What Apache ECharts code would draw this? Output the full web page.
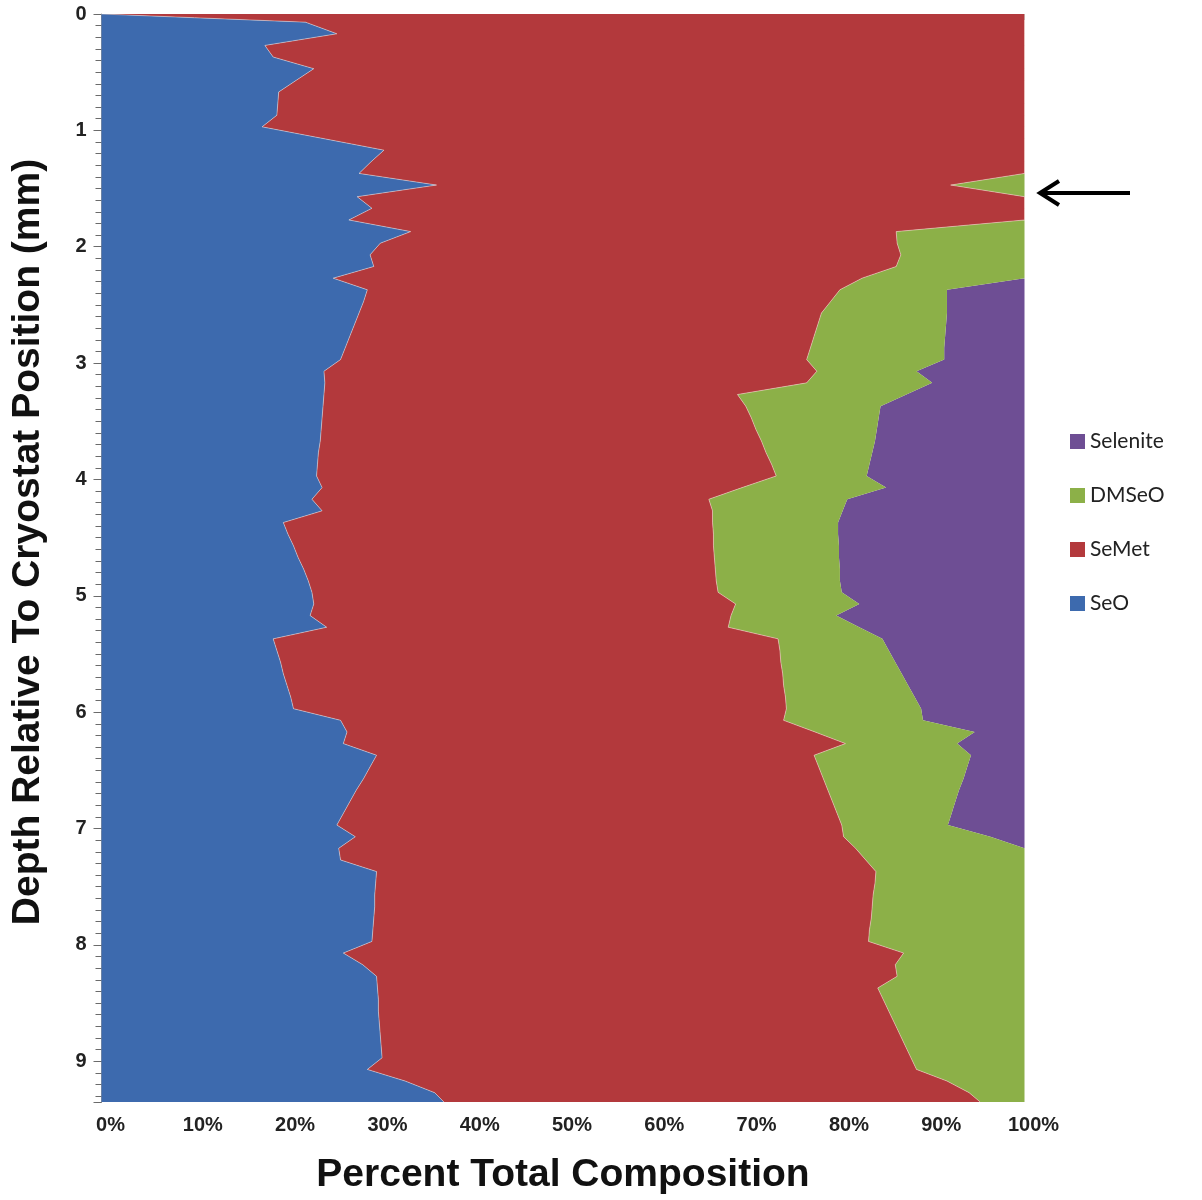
<!DOCTYPE html>
<html>
  <head>
    <meta charset="utf-8" />
    <title>Selenium speciation vs depth</title>
    <style type="text/css">
      html,
      body {
        margin: 0;
        width: 100%;
        height: 100%;
        background: #fff;
      }
      #main {
        width: 1202px;
        height: 1200px;
      }
    </style>
  </head>
  <body>
    <div id="main"></div>

    <script src="https://cdn.jsdelivr.net/npm/echarts@6/dist/echarts.min.js"></script>
    <script type="text/javascript">
      // depth of each scan point (mm), top to bottom
      var depths = [
        0, 0.07, 0.17, 0.27, 0.37, 0.47, 0.57, 0.67, 0.77, 0.87, 0.97,
        1.07, 1.17, 1.27, 1.37, 1.47, 1.57, 1.67, 1.77, 1.87, 1.97,
        2.07, 2.17, 2.27, 2.37, 2.47, 2.57, 2.67, 2.77, 2.87, 2.97,
        3.07, 3.17, 3.27, 3.37, 3.47, 3.57, 3.67, 3.77, 3.87, 3.97,
        4.07, 4.17, 4.27, 4.37, 4.47, 4.57, 4.67, 4.77, 4.87, 4.97,
        5.07, 5.17, 5.27, 5.37, 5.47, 5.57, 5.67, 5.77, 5.87, 5.97,
        6.07, 6.17, 6.27, 6.37, 6.47, 6.57, 6.67, 6.77, 6.87, 6.97,
        7.07, 7.17, 7.27, 7.37, 7.47, 7.57, 7.67, 7.77, 7.87, 7.97,
        8.07, 8.17, 8.27, 8.37, 8.47, 8.57, 8.67, 8.77, 8.87, 8.97,
        9.07, 9.17, 9.27, 9.35
      ];

      // percent of total Se at each depth
      var seO = [
        0, 22.1, 25.5, 17.7, 18.6, 23.0, 21.1, 19.2, 19.1, 19.0, 17.4,
        24.0, 30.6, 29.2, 27.9, 36.3, 27.7, 29.3, 26.8, 33.5, 30.2,
        29.1, 29.5, 25.1, 28.8, 28.4, 27.9, 27.4, 26.9, 26.4, 25.9,
        24.1, 24.2, 24.1, 24.0, 23.9, 23.8, 23.7, 23.5, 23.4, 23.3,
        23.9, 22.8, 23.9, 19.7, 20.2, 20.8, 21.3, 21.9, 22.4, 22.8,
        23.0, 22.6, 24.4, 18.6, 19.0, 19.4, 19.7, 20.1, 20.5, 20.8,
        25.9, 26.6, 26.2, 29.8, 29.1, 28.4, 27.6, 26.9, 26.2, 25.5,
        27.5, 25.7, 25.9, 29.8, 29.7, 29.6, 29.6, 29.5, 29.4, 29.3,
        26.2, 28.3, 29.8, 29.9, 30.0, 30.0, 30.1, 30.2, 30.3, 30.4,
        28.8, 32.9, 36.1, 37.1
      ];
      var seMet = [
        100, 77.9, 74.5, 82.3, 81.4, 77.0, 78.9, 80.8, 80.9, 81.0, 82.6,
        76.0, 69.4, 70.8, 72.1, 55.7, 72.3, 70.7, 73.2, 52.6, 56.0,
        57.5, 56.6, 57.3, 51.2, 50.6, 50.1, 50.2, 50.3, 50.4, 50.5,
        53.4, 52.2, 44.8, 45.8, 46.5, 47.1, 47.8, 48.5, 49.2, 49.8,
        45.5, 43.0, 42.3, 46.5, 46.1, 45.5, 45.1, 44.6, 44.2, 44.0,
        45.7, 45.6, 43.5, 54.7, 54.5, 54.2, 54.1, 53.8, 53.6, 53.4,
        48.0, 50.7, 54.4, 47.4, 48.6, 49.8, 51.1, 52.3, 53.5, 54.7,
        52.9, 56.0, 56.9, 54.1, 54.1, 54.0, 53.9, 53.9, 53.8, 53.8,
        60.7, 57.7, 56.4, 54.2, 54.7, 55.3, 55.8, 56.3, 56.8, 57.3,
        59.5, 58.7, 57.9, 58.1
      ];
      var dmseo = [
        0, 0, 0, 0, 0, 0, 0, 0, 0, 0, 0,
        0, 0, 0, 0, 8.0, 0, 0, 0, 13.9, 13.8,
        13.4, 13.9, 17.6, 11.6, 12.6, 13.6, 13.9, 14.2, 14.5, 14.9,
        10.8, 13.6, 18.3, 14.6, 13.8, 13.1, 12.3, 11.5, 10.6, 9.8,
        15.6, 15.0, 14.1, 13.6, 13.5, 13.6, 13.5, 13.5, 13.4, 13.4,
        13.4, 11.4, 14.2, 11.3, 11.8, 12.4, 12.9, 13.5, 14.0, 14.6,
        15.1, 17.3, 12.1, 17.0, 16.1, 15.2, 14.2, 13.3, 12.4, 11.5,
        15.9, 18.3, 17.2, 16.1, 16.2, 16.4, 16.5, 16.6, 16.8, 16.9,
        13.1, 14.0, 13.8, 15.9, 15.3, 14.7, 14.1, 13.5, 12.9, 12.3,
        11.7, 8.4, 6.0, 4.8
      ];
      var selenite = [
        0, 0, 0, 0, 0, 0, 0, 0, 0, 0, 0,
        0, 0, 0, 0, 0, 0, 0, 0, 0, 0,
        0, 0, 0, 8.4, 8.4, 8.4, 8.5, 8.6, 8.7, 8.7,
        11.7, 10.0, 12.8, 15.6, 15.8, 16.0, 16.2, 16.5, 16.8, 17.1,
        15.0, 19.2, 19.7, 20.2, 20.2, 20.1, 20.1, 20.0, 20.0, 19.8,
        17.9, 20.4, 17.9, 15.4, 14.7, 14.0, 13.3, 12.6, 11.9, 11.2,
        11.0, 5.4, 7.3, 5.8, 6.2, 6.6, 7.1, 7.5, 7.9, 8.3,
        3.7, 0, 0, 0, 0, 0, 0, 0, 0, 0,
        0, 0, 0, 0, 0, 0, 0, 0, 0, 0,
        0, 0, 0, 0
      ];

      var seriesNames = ["SeO", "SeMet", "DMSeO", "Selenite"];
      var seriesColors = ["#3d6aae", "#b3393c", "#8cb048", "#6e4e94"];
      var legendOrder = ["Selenite", "DMSeO", "SeMet", "SeO"];
      var xTicks = [0, 10, 20, 30, 40, 50, 60, 70, 80, 90, 100];

      // running totals: edges of each band
      var parts = [seO, seMet, dmseo, selenite];
      var edges = [depths.map(function () { return 0; })];
      parts.forEach(function (arr, s) {
        edges.push(arr.map(function (v, i) {
          return Math.min(100, +(edges[s][i] + v).toFixed(2));
        }));
      });

      var myChart = echarts.init(document.getElementById("main"));
      var font = "'Liberation Sans', Arial, sans-serif";

      function bandRender(s) {
        var lower = edges[s];
        var upper = edges[s + 1];
        return function (params, api) {
          if (params.dataIndex !== 0) return null;
          var pts = [];
          var edgeLine = [];
          for (var i = 0; i < depths.length; i++) {
            var p = api.coord([upper[i], depths[i]]);
            pts.push(p);
            edgeLine.push(p);
          }
          for (var j = depths.length - 1; j >= 0; j--) {
            pts.push(api.coord([lower[j], depths[j]]));
          }
          var children = [
            {
              type: "polygon",
              shape: { points: pts },
              style: { fill: seriesColors[s] }
            }
          ];
          if (s < 2) {
            children.push({
              type: "polyline",
              shape: { points: edgeLine },
              style: { stroke: "rgba(255,235,225,0.45)", lineWidth: 1, fill: null }
            });
          }
          return { type: "group", children: children };
        };
      }

      var series = seriesNames.map(function (name, s) {
        return {
          name: name,
          type: "custom",
          renderItem: bandRender(s),
          itemStyle: { color: seriesColors[s] },
          encode: { x: 0, y: 1 },
          data: depths.map(function (d, i) { return [edges[s + 1][i], d]; }),
          clip: true,
          z: 2 + (3 - s)
        };
      });

      var option = {
        backgroundColor: "#ffffff",
        animation: false,
        grid: {
          left: 101.5,
          right: 177.5,
          top: 14,
          bottom: 97
        },
        legend: {
          orient: "vertical",
          left: 1065,
          top: 426,
          itemGap: 33,
          itemWidth: 15,
          itemHeight: 15,
          icon: "rect",
          data: legendOrder,
          textStyle: {
            fontFamily: "Lato, 'Open Sans', sans-serif",
            fontSize: 21,
            lineHeight: 20,
            color: "#222"
          }
        },
        xAxis: {
          type: "value",
          min: xTicks[0],
          max: xTicks[xTicks.length - 1],
          interval: 10,
          name: "Percent Total Composition",
          nameLocation: "middle",
          nameGap: 54,
          nameTextStyle: {
            fontFamily: font,
            fontWeight: "bold",
            fontSize: 39,
            color: "#111"
          },
          axisLine: { lineStyle: { color: "#9a9a9a", width: 1 } },
          axisTick: { show: true, length: 6, lineStyle: { color: "#8a8a8a" } },
          splitLine: { show: false },
          axisLabel: {
            formatter: "{value}%",
            margin: 13,
            padding: [0, 0, 0, 18],
            fontFamily: font,
            fontWeight: "bold",
            fontSize: 20,
            color: "#222"
          }
        },
        yAxis: [
          {
            type: "value",
            inverse: true,
            min: 0,
            max: 9.35,
            interval: 1,
            name: "Depth Relative To Cryostat Position (mm)",
            nameLocation: "middle",
            nameGap: 54,
            nameTextStyle: {
              fontFamily: font,
              fontWeight: "bold",
              fontSize: 39,
              color: "#111",
              padding: [0, 0, 0, 32]
            },
            axisLine: { show: true, lineStyle: { color: "#9a9a9a", width: 1 } },
            axisTick: { show: true, length: 8, lineStyle: { color: "#6f6f6f" } },
            splitLine: { show: false },
            axisLabel: {
              margin: 15,
              fontFamily: font,
              fontWeight: "bold",
              fontSize: 20,
              color: "#222",
              formatter: function (v) {
                return Math.abs(v - Math.round(v)) < 1e-6 ? String(Math.round(v)) : "";
              }
            }
          },
          {
            // fine 0.1 mm ticks
            type: "value",
            inverse: true,
            position: "left",
            min: 0,
            max: 9.35,
            interval: 0.1,
            axisLine: { show: false },
            axisTick: { show: true, length: 6, lineStyle: { color: "#6a6a6a", width: 1 } },
            axisLabel: { show: false },
            splitLine: { show: false }
          }
        ],
        series: series,
        graphic: [
          {
            type: "group",
            silent: true,
            children: [
              {
                type: "line",
                shape: { x1: 1130, y1: 193, x2: 1041, y2: 193 },
                style: { stroke: "#000", lineWidth: 4 }
              },
              {
                type: "polyline",
                shape: { points: [[1059, 181], [1040, 193], [1059, 205]] },
                style: { stroke: "#000", lineWidth: 4, fill: null, lineJoin: "miter" }
              }
            ]
          }
        ]
      };

      myChart.setOption(option);
    </script>
  </body>
</html>
